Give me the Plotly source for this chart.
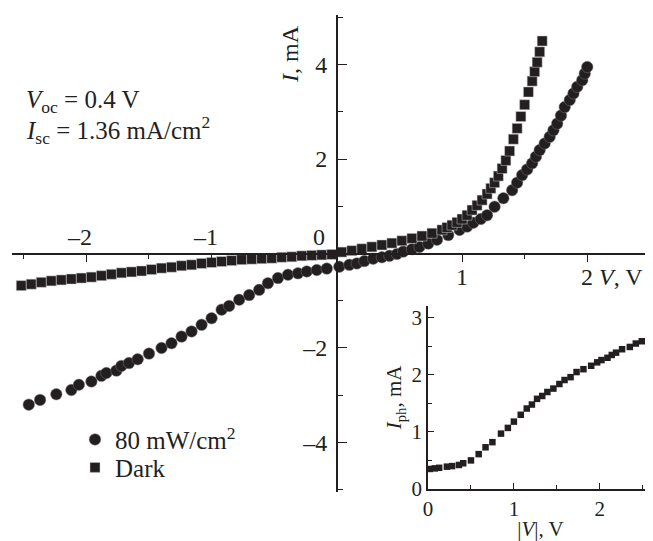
import plotly.graph_objects as go

# ---------------- data ----------------
dark_v = [-2.52, -2.44, -2.36, -2.28, -2.20, -2.12, -2.04, -1.96, -1.88, -1.80,
          -1.72, -1.64, -1.56, -1.48, -1.40, -1.32, -1.24, -1.16, -1.08, -1.00,
          -0.92, -0.84, -0.76, -0.68, -0.60, -0.52, -0.44, -0.36, -0.28, -0.20,
          -0.12, -0.04, 0.04, 0.12, 0.20, 0.28, 0.36, 0.44, 0.52, 0.60,
          0.68, 0.76, 0.84, 0.88, 0.92, 0.96, 1.00, 1.04, 1.08, 1.12,
          1.16, 1.20, 1.23, 1.26, 1.29, 1.32, 1.35, 1.38, 1.41, 1.44,
          1.47, 1.50, 1.53, 1.56, 1.58, 1.60, 1.62, 1.64]
dark_i = [-0.68, -0.65, -0.61, -0.58, -0.56, -0.54, -0.52, -0.50, -0.47, -0.44,
          -0.41, -0.39, -0.37, -0.34, -0.31, -0.29, -0.26, -0.24, -0.21, -0.19,
          -0.17, -0.15, -0.13, -0.12, -0.11, -0.10, -0.08, -0.07, -0.05, -0.04,
          -0.03, -0.02, 0.03, 0.06, 0.10, 0.14, 0.18, 0.22, 0.27, 0.32,
          0.37, 0.43, 0.50, 0.55, 0.60, 0.66, 0.73, 0.81, 0.92, 1.02,
          1.13, 1.26, 1.38, 1.50, 1.64, 1.80, 1.97, 2.17, 2.42, 2.65,
          2.90, 3.15, 3.42, 3.65, 3.85, 4.05, 4.27, 4.50]

light_v = [-2.46, -2.37, -2.24, -2.12, -2.06, -1.96, -1.88, -1.84, -1.76, -1.72,
           -1.66, -1.59, -1.50, -1.40, -1.32, -1.24, -1.16, -1.08, -1.00, -0.92,
           -0.86, -0.78, -0.70, -0.62, -0.55, -0.47, -0.39, -0.31, -0.24, -0.16,
           -0.08, 0.02, 0.10, 0.16, 0.22, 0.29, 0.36, 0.42, 0.48, 0.53,
           0.60, 0.66, 0.73, 0.80, 0.89, 0.98, 1.04, 1.09, 1.15, 1.20,
           1.26, 1.33, 1.40, 1.44, 1.48, 1.52, 1.56, 1.59, 1.62, 1.66,
           1.70, 1.73, 1.76, 1.79, 1.82, 1.86, 1.89, 1.92, 1.96, 1.98, 2.00]
light_i = [-3.20, -3.10, -2.98, -2.89, -2.78, -2.71, -2.59, -2.53, -2.48, -2.38,
           -2.32, -2.24, -2.12, -2.00, -1.90, -1.76, -1.65, -1.51, -1.37, -1.19,
           -1.11, -0.98, -0.88, -0.77, -0.63, -0.52, -0.45, -0.42, -0.38, -0.35,
           -0.32, -0.28, -0.24, -0.21, -0.16, -0.11, -0.08, -0.05, -0.01, 0.04,
           0.09, 0.14, 0.21, 0.29, 0.39, 0.50, 0.57, 0.65, 0.73, 0.81,
           0.99, 1.17, 1.34, 1.50, 1.66, 1.78, 1.91, 2.05, 2.19, 2.33,
           2.47, 2.61, 2.75, 2.92, 3.10, 3.25, 3.39, 3.53, 3.67, 3.81, 3.95]

inset_v = [0.02, 0.08, 0.13, 0.22, 0.28, 0.36, 0.41, 0.50, 0.59, 0.67,
           0.75, 0.85, 0.93, 1.00, 1.08, 1.15, 1.21, 1.27, 1.33, 1.39,
           1.46, 1.53, 1.59, 1.66, 1.73, 1.81, 1.90, 1.97, 2.02, 2.09,
           2.14, 2.19, 2.26, 2.35, 2.42, 2.49]
inset_iph = [0.35, 0.36, 0.37, 0.39, 0.40, 0.42, 0.45, 0.50, 0.61, 0.73,
             0.82, 0.97, 1.07, 1.18, 1.30, 1.41, 1.48, 1.58, 1.63, 1.70,
             1.76, 1.84, 1.91, 1.96, 2.05, 2.10, 2.16, 2.22, 2.26, 2.30,
             2.35, 2.39, 2.45, 2.49, 2.55, 2.59]

x_tick_vals = [-2, -1, 1, 2]
x_tick_text = ["\u20132", "\u20131", "1", "2"]
y_tick_vals = [-4, -2, 2, 4]
y_tick_text = ["\u20134", "\u20132", "2", "4"]
inset_x_ticks = [0, 1, 2]
inset_y_ticks = [0, 1, 2, 3]

INK = "#231f20"
FONT = "Liberation Serif"

# page has an 8px body margin; figure is sized so that it ends at the window edge
OFF = 8
W, H = 653 - OFF, 541 - OFF
L, T, B = 12 - OFF, 14.6 - OFF, 48.6
pw, ph = W - L, H - T - B


def xp(px):
    return (px - OFF - L) / pw


def yp(py):
    return (H - B - (py - OFF)) / ph


fig = go.Figure()
fig.add_trace(go.Scatter(x=light_v, y=light_i, mode="markers", name="80 mW/cm<sup>2</sup>",
                         legend="legend",
                         marker=dict(symbol="circle", size=11.5, color=INK,
                                     line=dict(color="#777777", width=0.5))))
fig.add_trace(go.Scatter(x=dark_v, y=dark_i, mode="markers", name="Dark",
                         legend="legend2",
                         marker=dict(symbol="square", size=10, color=INK,
                                     line=dict(color="#cccccc", width=0.5))))
fig.add_trace(go.Scatter(x=inset_v, y=inset_iph, mode="markers", showlegend=False,
                         xaxis="x2", yaxis="y2",
                         marker=dict(symbol="square", size=6.5, color=INK)))

TF = 24   # main tick labels
AF = 25   # annotations / legend
IF = 21   # inset ticks

leg_common = dict(xanchor="left", yanchor="middle", bgcolor="rgba(0,0,0,0)",
                  font=dict(size=AF, family=FONT, color=INK), itemwidth=30)

fig.update_layout(
    width=W, height=H,
    margin=dict(l=L, r=0, t=T, b=B, autoexpand=False),
    paper_bgcolor="white", plot_bgcolor="rgba(0,0,0,0)",
    font=dict(family=FONT, color=INK, size=20),
    showlegend=True,
    legend=dict(x=xp(75), y=yp(440), **leg_common),
    legend2=dict(x=xp(75), y=yp(468), **leg_common),
    xaxis=dict(range=[-2.594, 2.525], anchor="free", position=0.5,
               showline=True, linecolor=INK, linewidth=1.5,
               ticks="outside", tickcolor=INK, tickwidth=1.2, ticklen=8,
               tick0=0, dtick=1, showticklabels=False,
               minor=dict(dtick=0.5, ticks="outside", ticklen=5, tickcolor=INK, tickwidth=1.2),
               showgrid=False, zeroline=False),
    yaxis=dict(range=[-5.05, 5.05], anchor="free", position=xp(336.85),
               showline=True, linecolor=INK, linewidth=1.5,
               ticks="inside", tickcolor=INK, tickwidth=1.2, ticklen=9,
               tickvals=y_tick_vals, ticktext=y_tick_text, ticklabelstandoff=4,
               tickfont=dict(size=TF, family=FONT, color=INK),
               minor=dict(dtick=1, ticks="inside", ticklen=5, tickcolor=INK, tickwidth=1.2),
               showgrid=False, zeroline=False),
    xaxis2=dict(domain=[xp(428), 1], anchor="y2", range=[0, 2.62],
                showline=True, linecolor=INK, linewidth=1.5,
                ticks="inside", tickcolor=INK, tickwidth=1.2, ticklen=6,
                tickvals=inset_x_ticks, tickfont=dict(size=IF, family=FONT, color=INK),
                minor=dict(dtick=0.5, ticks="inside", ticklen=4, tickcolor=INK, tickwidth=1.2),
                title=dict(text="|<i>V</i>|, V", font=dict(size=21, family=FONT, color=INK), standoff=6),
                showgrid=False, zeroline=False),
    yaxis2=dict(domain=[yp(489.3), yp(306)], anchor="x2", range=[0, 3.21],
                showline=True, linecolor=INK, linewidth=1.5,
                ticks="inside", tickcolor=INK, tickwidth=1.2, ticklen=6,
                tickvals=inset_y_ticks, tickfont=dict(size=IF, family=FONT, color=INK),
                minor=dict(dtick=0.5, ticks="inside", ticklen=4, tickcolor=INK, tickwidth=1.2),
                title=dict(text="<i>I</i><sub>ph</sub>, mA", font=dict(size=21, family=FONT, color=INK), standoff=4),
                showgrid=False, zeroline=False),
)

ann = []
for v, t in zip(x_tick_vals, x_tick_text):
    if v < 0:
        ann.append(dict(x=v, y=0, xref="x", yref="y", text=t, showarrow=False,
                        xanchor="right", yanchor="bottom", xshift=8, yshift=2,
                        font=dict(size=TF, family=FONT, color=INK)))
    else:
        ann.append(dict(x=v, y=0, xref="x", yref="y", text=t, showarrow=False,
                        xanchor="center", yanchor="top", yshift=-8,
                        font=dict(size=TF, family=FONT, color=INK)))
ann.append(dict(x=0, y=0, xref="x", yref="y", text="0", showarrow=False,
                xanchor="right", yanchor="bottom", xshift=-10, yshift=2,
                font=dict(size=TF, family=FONT, color=INK)))
ann.append(dict(x=2, y=0, xref="x", yref="y", text="<i>V</i>, V", showarrow=False,
                xanchor="left", yanchor="top", xshift=10, yshift=-8,
                font=dict(size=TF, family=FONT, color=INK)))
ann.append(dict(x=0, y=4.22, xref="x", yref="y", text="<i>I</i>, mA", showarrow=False,
                textangle=-90, xanchor="center", yanchor="middle", xshift=-47,
                font=dict(size=TF, family=FONT, color=INK)))
ann.append(dict(x=xp(24), y=yp(101), xref="paper", yref="paper",
                text="<i>V</i><sub>oc</sub> = 0.4 V", showarrow=False,
                xanchor="left", yanchor="middle", font=dict(size=AF, family=FONT, color=INK)))
ann.append(dict(x=xp(24), y=yp(130), xref="paper", yref="paper",
                text="<i>I</i><sub>sc</sub> = 1.36 mA/cm<sup>2</sup>", showarrow=False,
                xanchor="left", yanchor="middle", font=dict(size=AF, family=FONT, color=INK)))
fig.update_layout(annotations=ann)

fig.write_html("out.html")
